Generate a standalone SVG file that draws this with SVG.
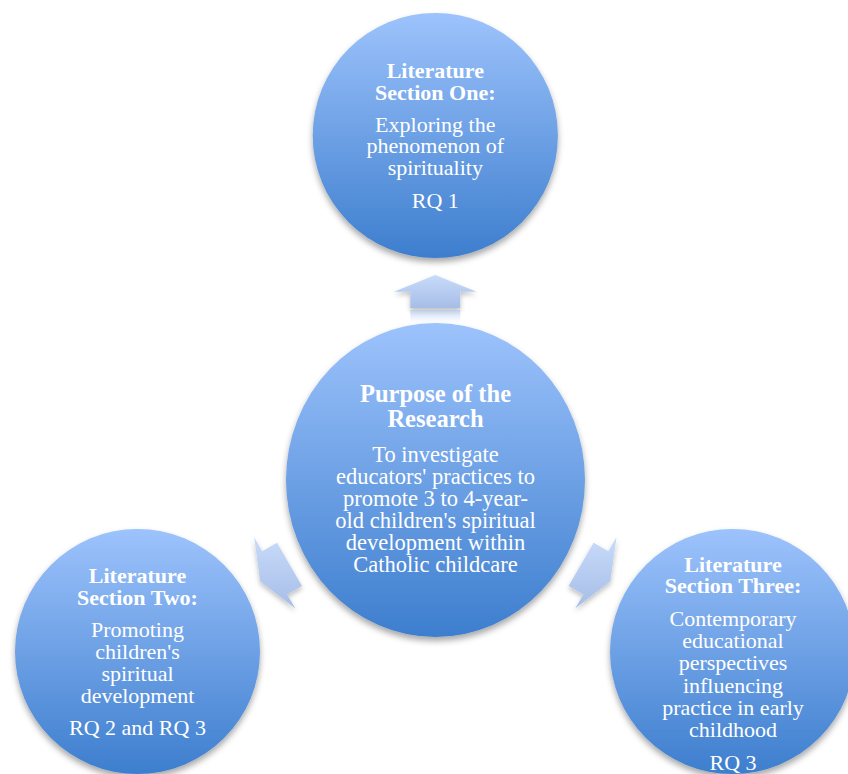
<svg xmlns="http://www.w3.org/2000/svg" width="848" height="774" viewBox="0 0 848 774">
<defs>
<linearGradient id="gCircle" x1="0" y1="0" x2="0" y2="1">
<stop offset="0" stop-color="#9DC3FC"/>
<stop offset="1" stop-color="#3D7ECE"/>
</linearGradient>
<linearGradient id="gArrow" x1="0" y1="0" x2="0" y2="1">
<stop offset="0" stop-color="#C8DBFA"/>
<stop offset="1" stop-color="#A6BDE6"/>
</linearGradient>
<linearGradient id="gRefl" x1="0" y1="0" x2="0" y2="1">
<stop offset="0" stop-color="#B2C7EC" stop-opacity="0.7"/>
<stop offset="1" stop-color="#C8DBFA" stop-opacity="0"/>
</linearGradient>
<filter id="shadow" x="-20%" y="-20%" width="140%" height="140%">
<feDropShadow dx="0" dy="4" stdDeviation="3" flood-color="#000" flood-opacity="0.35"/>
</filter>
<filter id="ashadow" x="-30%" y="-30%" width="160%" height="160%">
<feDropShadow dx="0" dy="3" stdDeviation="2.5" flood-color="#000" flood-opacity="0.25"/>
</filter>
</defs>
<style>
.c{fill:url(#gCircle);filter:url(#shadow)}
.a{fill:url(#gArrow);filter:url(#ashadow)}
text{font-family:"Liberation Serif","Times New Roman",serif;fill:#fff;text-anchor:middle}
.t{font-weight:bold;font-size:22px}
.b{font-size:22px}
.ct{font-weight:bold;font-size:24.5px}
.cb{font-size:22.5px}
</style>
<rect width="848" height="774" fill="#fff"/>
<g id="connectors">
<path class="a" d="M435.3,275 L476.6,291.7 L460.3,291.7 L460.3,308 L410.3,308 L410.3,291.7 L394,291.7 Z"/>
<rect x="410.3" y="310" width="50" height="13" fill="url(#gRefl)"/>
<path class="a" d="M260.2,581.2 L254.1,537 L262.2,551.2 L277,542.7 L302,586 L287.2,594.5 L295.4,608.6 Z"/>
<path class="a" d="M610.4,581.2 L616.5,537 L608.4,551.2 L593.6,542.7 L568.6,586 L583.4,594.5 L575.2,608.6 Z"/>
</g>
<g id="node-top">
<circle class="c" cx="435.3" cy="135.5" r="122.6"/>
<text class="t" x="435.3" y="78.3">Literature</text>
<text class="t" x="435.3" y="100">Section One:</text>
<text class="b" x="435.3" y="131.7">Exploring the</text>
<text class="b" x="435.3" y="153.3">phenomenon of</text>
<text class="b" x="435.3" y="175">spirituality</text>
<text class="b" x="435.3" y="207.7">RQ 1</text>
</g>
<g id="node-center">
<ellipse class="c" cx="435.5" cy="480" rx="149.5" ry="157"/>
<text class="ct" x="435.5" y="401.7">Purpose of the</text>
<text class="ct" x="435.5" y="427.3">Research</text>
<text class="cb" x="435.5" y="461.7">To investigate</text>
<text class="cb" x="435.5" y="483.6">educators' practices to</text>
<text class="cb" x="435.5" y="505.7">promote 3 to 4-year-</text>
<text class="cb" x="435.5" y="528">old children's spiritual</text>
<text class="cb" x="435.5" y="550">development within</text>
<text class="cb" x="435.5" y="572.3">Catholic childcare</text>
</g>
<g id="node-left">
<circle class="c" cx="137.5" cy="651.5" r="122.5"/>
<text class="t" x="137.5" y="583.3">Literature</text>
<text class="t" x="137.5" y="605">Section Two:</text>
<text class="b" x="137.5" y="637.3">Promoting</text>
<text class="b" x="137.5" y="659.3">children's</text>
<text class="b" x="137.5" y="681">spiritual</text>
<text class="b" x="137.5" y="703.3">development</text>
<text class="b" x="137.5" y="735">RQ 2 and RQ 3</text>
</g>
<g id="node-right">
<circle class="c" cx="732.5" cy="651.5" r="122.5"/>
<text class="t" x="733" y="572.3">Literature</text>
<text class="t" x="733" y="593.3">Section Three:</text>
<text class="b" x="733" y="626">Contemporary</text>
<text class="b" x="733" y="648.3">educational</text>
<text class="b" x="733" y="670">perspectives</text>
<text class="b" x="733" y="692.7">influencing</text>
<text class="b" x="733" y="715">practice in early</text>
<text class="b" x="733" y="736.7">childhood</text>
<text class="b" x="733" y="770">RQ 3</text>
</g>
</svg>
